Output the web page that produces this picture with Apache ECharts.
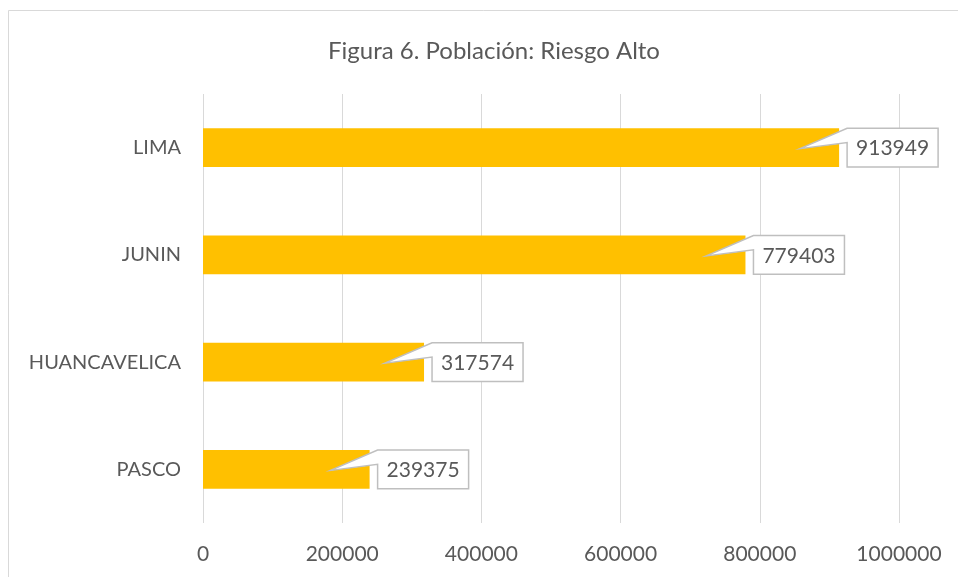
<!DOCTYPE html>
<html>
<head>
<meta charset="utf-8">
<script src="https://cdn.jsdelivr.net/npm/echarts@6/dist/echarts.min.js"></script>
<style>
  html, body { margin: 0; padding: 0; background: #fff; }
  #main { width: 958px; height: 577px; }
</style>
</head>
<body>
<div id="main"></div>
<script>
// datos del gráfico (de arriba hacia abajo)
let categorias = ['LIMA', 'JUNIN', 'HUANCAVELICA', 'PASCO']
let poblacion = [913949, 779403, 317574, 239375]
let ticksX = [0, 200000, 400000, 600000, 800000, 1000000]

let fuente = 'Lato, "Liberation Sans", sans-serif'
let myChart = echarts.init(document.getElementById('main'))

// cuadro de etiqueta con la flecha que entra a la barra
function dibujarEtiqueta(params, api) {
  let p = api.coord([api.value(0), api.value(1)])
  let banda = api.size([0, 1])[1]
  let h = banda * 0.36
  let x = p[0], c = p[1]
  let L = x + 8, R = L + 91, T = c - h / 2, B = c + h / 2
  return {
    type: 'group',
    children: [
      {
        type: 'polygon',
        shape: { points: [[L, T], [R, T], [R, B], [L, B], [L, c - 5], [x - 39, c + 1]] },
        style: { fill: '#fff', stroke: '#bfbfbf', lineWidth: 1.5 },
      },
      {
        type: 'text',
        style: {
          x: (L + R) / 2, y: c + 1,
          text: String(api.value(0)),
          fill: '#595959',
          font: '21px ' + fuente,
          align: 'center', verticalAlign: 'middle',
        },
      },
    ],
  }
}

let option = {
  animation: false,
  backgroundColor: '#fff',
  title: {
    text: 'Figura 6. Población: Riesgo Alto',
    left: 489,
    textAlign: 'center',
    top: 34,
    textStyle: { fontSize: 24, fontWeight: 'normal', color: '#595959', fontFamily: fuente },
  },
  graphic: [
    {
      type: 'rect',
      shape: { x: 8.5, y: 10.5, width: 970, height: 600 },
      style: { fill: 'none', stroke: '#d9d9d9', lineWidth: 1 },
      silent: true,
    },
  ],
  grid: { left: 203, right: 59, top: 94, bottom: 54 },
  xAxis: {
    type: 'value',
    min: 0,
    max: 1000000,
    interval: 200000,
    axisLine: { show: false },
    axisTick: { show: false },
    splitLine: { lineStyle: { color: '#d9d9d9', width: 1 } },
    axisLabel: {
      margin: 21,
      fontSize: 21,
      color: '#595959',
      fontFamily: fuente,
      formatter: (v) => (ticksX.includes(v) ? String(v) : ''),
    },
  },
  yAxis: {
    type: 'category',
    data: categorias,
    inverse: true,
    axisLine: { show: false },
    axisTick: { show: false },
    axisLabel: { margin: 22, fontSize: 20, color: '#595959', fontFamily: fuente },
  },
  series: [
    {
      type: 'bar',
      data: poblacion,
      barWidth: '36%',
      itemStyle: { color: '#FFC000' },
    },
    {
      type: 'custom',
      coordinateSystem: 'cartesian2d',
      clip: false,
      z: 5,
      encode: { x: 0, y: 1 },
      data: poblacion.map((v, i) => [v, i]),
      renderItem: dibujarEtiqueta,
    },
  ],
}

myChart.setOption(option)
</script>
</body>
</html>
